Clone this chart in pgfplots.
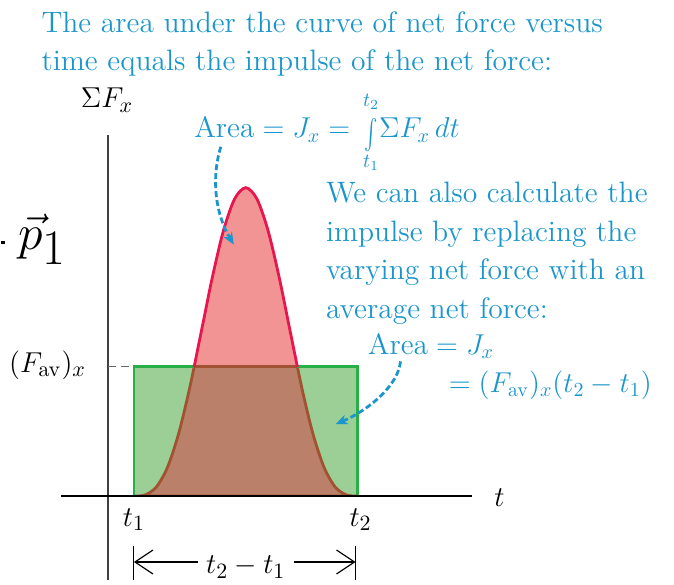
\documentclass[border=0pt]{standalone}
\usepackage{pgfplots}
\pgfplotsset{compat=1.18}
\usepackage{pgfplotstable}
\usepackage{graphicx}
\usetikzlibrary{arrows.meta}

\definecolor{pinkfill}{RGB}{242,148,148}
\definecolor{redline}{RGB}{232,22,78}
\definecolor{greenfill}{RGB}{155,207,150}
\definecolor{greenline}{RGB}{40,175,70}
\definecolor{brownfill}{RGB}{186,128,106}
\definecolor{brownline}{RGB}{160,82,50}
\definecolor{txtblue}{RGB}{27,150,204}

% a taller integral sign for the caption formula
\newcommand{\tallint}{\mathop{\raisebox{-4pt}{\scalebox{1}[1.5]{$\int$}}}\limits}

% net force pulse between t1 and t2
\pgfplotstableread{
t F
26 0
37.2 1.2
48.4 9.1
59.6 28.9
70.8 62.8
82 109.2
93.2 163.6
104.4 218.6
115.6 265.8
126.8 297.7
138 309
149.2 297.7
160.4 265.8
171.6 218.6
182.8 163.6
194 109.2
205.2 62.8
216.4 28.9
227.6 9.1
238.8 1.2
250 0
}\forcedata

\begin{document}
\begin{tikzpicture}
\begin{axis}[
  width=337pt, height=290.5pt, scale only axis,
  xmin=-107, xmax=567, ymin=-84, ymax=497,
  axis lines=none, clip=false,
]
\addplot[draw=none, forget plot] coordinates {(-107,-84) (567,497)};

% area under the force curve
\addplot[smooth, draw=none, fill=pinkfill] table {\forcedata} \closedcycle;
% average-force rectangle
\addplot[draw=none, fill=greenfill] coordinates {(26,0) (26,130) (250,130) (250,0)} \closedcycle;
% overlap of the two areas
\begin{scope}
  \clip (axis cs:26,0) rectangle (axis cs:250,130);
  \addplot[smooth, fill=brownfill, draw=brownline, line width=1.4pt] table {\forcedata} \closedcycle;
\end{scope}
\addplot[greenline, line width=1.4pt] coordinates {(26,0) (26,130) (250,130) (250,0)};
\addplot[brownline, line width=1.4pt] coordinates {(86.3,130) (189.7,130)};
\begin{scope}
  \clip (axis cs:0,130) rectangle (axis cs:300,400);
  \addplot[smooth, draw=redline, line width=1.4pt] table {\forcedata};
\end{scope}

% axes
\addplot[black!75, line width=0.8pt] coordinates {(0,-84) (0,362)};
\addplot[black, line width=0.8pt] coordinates {(-47,0) (365,0)};
\addplot[black!60, line width=0.7pt, dash pattern=on 4pt off 2.5pt] coordinates {(0,130) (26,130)};

% axis labels
\node[anchor=base, font=\fontsize{15.5}{19}\selectfont] at (axis cs:-1,389) {$\Sigma F_x$};
\node[anchor=base west, font=\fontsize{15}{18}\selectfont] at (axis cs:380,-10) {$t$};
\node[anchor=base, font=\fontsize{15}{18}\selectfont] at (axis cs:26,-30) {$t_1$};
\node[anchor=base, font=\fontsize{15}{18}\selectfont] at (axis cs:253,-30) {$t_2$};
\node[anchor=base east, font=\fontsize{15}{18}\selectfont] at (axis cs:-15,124) {$(F_{\mathrm{av}})_x$};

% interval bracket
\addplot[black, line width=0.5pt] coordinates {(26,-50) (26,-84)};
\addplot[black, line width=0.5pt] coordinates {(248,-50) (248,-84)};
\draw[black, line width=0.6pt, {Straight Barb[length=9pt,width=12pt]}-] (axis cs:26,-66) -- (axis cs:90,-66);
\draw[black, line width=0.6pt, -{Straight Barb[length=9pt,width=12pt]}] (axis cs:186,-66) -- (axis cs:248,-66);
\node[anchor=base, font=\fontsize{15}{18}\selectfont] at (axis cs:138,-78) {$t_2 - t_1$};

% momentum symbol at the left edge
\draw[black, line width=1.2pt] (axis cs:-107,254) -- (axis cs:-103,254);
\node[anchor=base west, inner sep=0pt, font=\fontsize{34}{40}\selectfont] at (axis cs:-90,247) {$\vec{p}_1$};

% captions
\begin{scope}[every node/.style={anchor=base west, text=txtblue, inner sep=0pt, font=\fontsize{14.8}{18}\selectfont}]
\node at (axis cs:-67,464) {The area under the curve of net force versus};
\node at (axis cs:-67,426) {time equals the impulse of the net force:};
\node at (axis cs:86,359) {Area${}={}J_x{}={}\tallint_{t_1}^{\raisebox{4pt}{$\scriptstyle t_2$}}\!\Sigma F_x\,dt$};
\node at (axis cs:218,294) {We can also calculate the};
\node at (axis cs:218,255) {impulse by replacing the};
\node at (axis cs:218,217) {varying net force with an};
\node at (axis cs:218,178) {average net force:};
\node at (axis cs:260,142) {Area${}={}J_x$};
\node at (axis cs:333,104) {${}={}(F_{\mathrm{av}})_x(t_2 - t_1)$};
\end{scope}

% pointers to the two areas
\draw[txtblue, line width=1.4pt, dash pattern=on 3pt off 1.5pt, -{Stealth[length=6pt,width=5pt]}]
  (axis cs:113,350) .. controls (axis cs:103,317) and (axis cs:108,282) .. (axis cs:126,252);
\draw[txtblue, line width=1.4pt, dash pattern=on 3pt off 1.5pt, -{Stealth[length=6pt,width=5pt]}]
  (axis cs:293,135) .. controls (axis cs:291,112) and (axis cs:263,87) .. (axis cs:228,72);
\end{axis}
\end{tikzpicture}
\end{document}
